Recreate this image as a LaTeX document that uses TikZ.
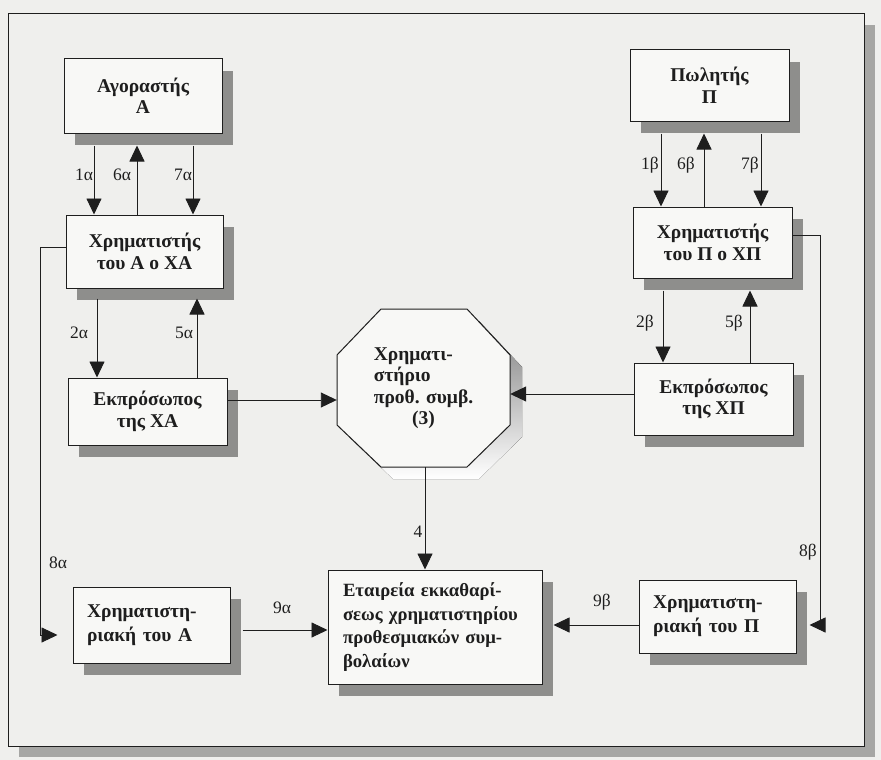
\documentclass[tikz,border=0pt]{standalone}
\usepackage{fontspec}
\setmainfont{Liberation Serif}
\usetikzlibrary{arrows.meta,shadows,calc}
\definecolor{paper}{HTML}{EFEFED}
\definecolor{boxfill}{HTML}{F8F8F6}
\definecolor{shade}{HTML}{8E8E8C}
\definecolor{frameshade}{HTML}{A6A6A4}
\definecolor{ink}{HTML}{1E1E1E}
\begin{document}
\begin{tikzpicture}[x=1pt,y=-1pt,
  box/.style={draw=ink, line width=1pt, fill=boxfill, align=center, inner sep=3pt,
    text=ink, font=\fontsize{19.5}{21.5}\selectfont\bfseries,
    drop shadow={shadow xshift=11pt, shadow yshift=-12pt, fill=shade, opacity=1}},
  leftbox/.style={box, align=left, inner xsep=14pt},
  lbl/.style={font=\fontsize{17.5}{19}\selectfont, inner sep=0pt, text=ink},
  conn/.style={line width=0.9pt, draw=ink, -{Triangle[length=16pt,width=15pt]}}]
\useasboundingbox (0,0) rectangle (881,760);
\fill[paper] (0,0) rectangle (881,760);
% outer frame
\node[draw=ink, line width=1pt, fill=paper, minimum width=856pt, minimum height=732pt,
  drop shadow={shadow xshift=11pt, shadow yshift=-11pt, fill=frameshade, opacity=1}]
  (frame) at (436,380) {};
% boxes
\node[box, minimum width=158pt, minimum height=74pt] (agA) at (143,96) {Αγοραστής\\Α};
\node[box, minimum width=157pt, minimum height=73pt] (xA) at (144.5,251.5) {Χρηματιστής\\του Α ο ΧΑ};
\node[box, minimum width=159pt, minimum height=67pt] (ekA) at (147.5,411.5) {Εκπρόσωπος\\της ΧΑ};
\node[leftbox, text width=129pt, minimum height=76pt, font=\fontsize{19.5}{24}\selectfont\bfseries] (chA) at (151.5,625) {Χρηματιστη-\\ριακή~του~Α};
\node[leftbox, inner xsep=15pt, text width=184pt, minimum height=114pt,
  font=\fontsize{18.7}{23.5}\selectfont\bfseries] (et) at (435,627)
  {Εταιρεία~εκκαθαρί-\\σεως~χρηματιστηρίου\\προθεσμιακών~συμ-\\βολαίων};
\node[box, minimum width=159pt, minimum height=71pt] (pP) at (709.5,85.5) {Πωλητής\\Π};
\node[box, minimum width=159pt, minimum height=71pt] (xP) at (712.5,242.5) {Χρηματιστής\\του Π ο ΧΠ};
\node[box, minimum width=159pt, minimum height=72pt] (ekP) at (713.5,399) {Εκπρόσωπος\\της ΧΠ};
\node[leftbox, text width=129pt, minimum height=73pt, font=\fontsize{19.5}{24}\selectfont\bfseries] (chP) at (717.5,616.5) {Χρηματιστη-\\ριακή~του~Π};
% octagon
\begin{scope}[shift={(12,12)}]
  \fill[shade] (381,309) -- (467,309) -- (510,355) -- (510,425) -- (467,467) -- (381,467) -- (337,425) -- (337,355) -- cycle;
\end{scope}
\draw[ink, line width=1pt, fill=boxfill] (381,309) -- (467,309) -- (510,355) -- (510,425) -- (467,467) -- (381,467) -- (337,425) -- (337,355) -- cycle;
\node[minimum width=173pt, minimum height=158pt, inner sep=0pt, text=ink,
  font=\fontsize{19.5}{21.5}\selectfont\bfseries] (oct) at (423.5,388)
  {\raisebox{3pt}{\begin{tabular}{@{}l@{}}Χρηματι-\\στήριο\\προθ. συμβ.\\\multicolumn{1}{@{}c@{}}{(3)}\end{tabular}}};
% connectors, left column
\draw[conn, shorten <=12pt] (agA.south -| 94,0) -- (xA.north -| 94,0);
\draw[conn, shorten >=12pt] (xA.north -| 137,0) -- (agA.south -| 137,0);
\draw[conn, shorten <=12pt] (agA.south -| 193,0) -- (xA.north -| 193,0);
\draw[conn, shorten <=10pt] (xA.south -| 97,0) -- (ekA.north -| 97,0);
\draw[conn, shorten >=10pt] (ekA.north -| 197,0) -- (xA.south -| 197,0);
% right column
\draw[conn, shorten <=12pt] (pP.south -| 661,0) -- (xP.north -| 661,0);
\draw[conn, shorten >=12pt] (xP.north -| 704,0) -- (pP.south -| 704,0);
\draw[conn, shorten <=12pt] (pP.south -| 761,0) -- (xP.north -| 761,0);
\draw[conn, shorten <=12pt] (xP.south -| 663,0) -- (ekP.north -| 663,0);
\draw[conn, shorten >=12pt] (ekP.north -| 750,0) -- (xP.south -| 750,0);
% to and from the exchange
\draw[conn] (ekA.east |- 0,400) -- (oct.west |- 0,400);
\draw[conn] (ekP.west |- 0,394) -- (oct.east |- 0,394);
\draw[conn] (oct.south -| 425,0) -- (et.north -| 425,0);
% clearing
\draw[conn, shorten >=15pt] (xA.west |- 0,247) -- (40,247) -- (40,635) -- (chA.west |- 0,635);
\draw[conn, shorten >=13pt] (xP.east |- 0,235) -- (820,235) -- (820,625) -- (chP.east |- 0,625);
\draw[conn, shorten <=12pt] (chA.east |- 0,630) -- (et.west |- 0,630);
\draw[conn, shorten >=11pt] (chP.west |- 0,625) -- (et.east |- 0,625);
% labels
\node[lbl] (l1a) at (84,175) {1α};
\node[lbl] (l6a) at (122,175) {6α};
\node[lbl] (l7a) at (183,175) {7α};
\node[lbl] (l2a) at (79,333) {2α};
\node[lbl] (l5a) at (184,333) {5α};
\node[lbl] (l8a) at (58,563) {8α};
\node[lbl] (l9a) at (282,608) {9α};
\node[lbl] (l4) at (418,532) {4};
\node[lbl] (l1b) at (650,165) {1β};
\node[lbl] (l6b) at (686,165) {6β};
\node[lbl] (l7b) at (750,165) {7β};
\node[lbl] (l2b) at (645,323) {2β};
\node[lbl] (l5b) at (734,323) {5β};
\node[lbl] (l8b) at (808,552) {8β};
\node[lbl] (l9b) at (602,602) {9β};
\end{tikzpicture}
\end{document}
